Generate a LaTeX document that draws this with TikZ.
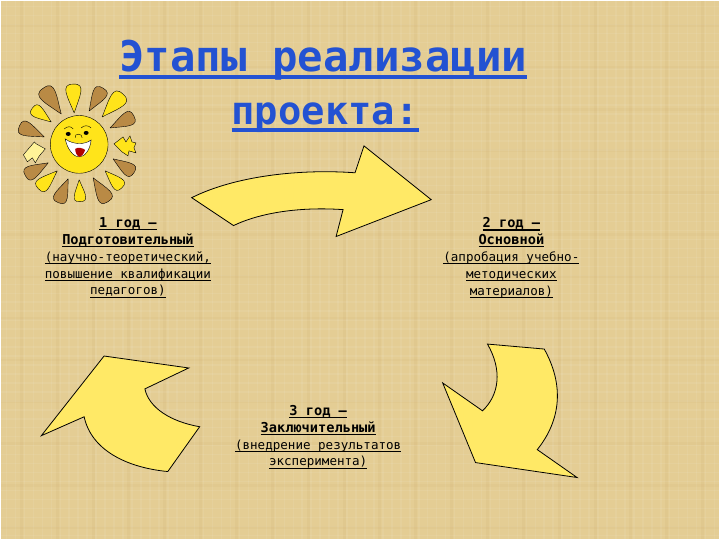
\documentclass[tikz,border=0pt]{standalone}
\usepackage{fontspec}
\usepackage{tikz}
\usetikzlibrary{calc}
\setmonofont{DejaVu Sans Mono}
\definecolor{paperTan}{HTML}{E4CD94}
\definecolor{arrowYellow}{HTML}{FFE966}
\definecolor{titleBlue}{HTML}{2352D2}
\definecolor{rayBrown}{HTML}{B98A45}
\definecolor{sunYellow}{HTML}{FFE41A}
\newsavebox{\lineBox}
\newcommand{\titleLine}[1]{\sbox{\lineBox}{#1}\rlap{\vrule width\wd\lineBox height -3.5pt depth 7pt}\usebox{\lineBox}}
\newcommand{\stageLine}[1]{\sbox{\lineBox}{#1}\rlap{\vrule width\wd\lineBox height -2pt depth 3.1pt}\usebox{\lineBox}}
\newcommand{\stageHead}[1]{\stageLine{\fontsize{13.7}{17}\selectfont\bfseries #1}}
\newcommand{\sunRay}[3]{\draw[black, thin, fill=#3] (#2) .. controls ($(#2)!0.6!20:(#1)$) and ($(#2)!1.12!25:(#1)$) .. (#1) .. controls ($(#2)!1.12!-25:(#1)$) and ($(#2)!0.6!-20:(#1)$) .. (#2);}

\begin{document}
\begin{tikzpicture}[x=1pt, y=-1pt]
  \tikzset{bigArrow/.style={draw=black, line width=0.8pt, fill=arrowYellow, line join=miter},
    titleText/.style={font=\ttfamily\bfseries\fontsize{42.5}{50}\selectfont, text=titleBlue, anchor=base, inner sep=0pt},
    stageText/.style={font=\ttfamily\fontsize{12.6}{17}\selectfont, align=center, anchor=north, inner sep=0pt}}
  \fill[paperTan] (0,0) rectangle (720,540);
  \foreach \x in {5,14,...,720}
    \draw[white, opacity=0.07, line width=1.5pt] (\x,0) -- (\x,540);
  \foreach \x in {20,56,...,720}
    \draw[rayBrown, opacity=0.07, line width=3pt] (\x,0) -- (\x,540);
  \foreach \y in {5,14,...,540}
    \draw[white, opacity=0.07, line width=1.5pt] (0,\y) -- (720,\y);
  \foreach \y in {24,66,...,540}
    \draw[rayBrown, opacity=0.05, line width=3pt] (0,\y) -- (720,\y);

  \node[titleText] (title-1) at (323,70.5) {\titleLine{Этапы реализации}};
  \node[titleText, font=\ttfamily\bfseries\fontsize{39}{50}\selectfont] (title-2) at (325,124) {\titleLine{проекта:}};

  \draw[bigArrow] (431.5,199) -- (364,145) -- (355,172)
    .. controls (300,168) and (235,175) .. (191,197) -- (233,225)
    .. controls (260,212) and (300,206) .. (343,209) -- (336,236) -- cycle;
  \draw[bigArrow] (488,344) -- (545,349)
    .. controls (565,385) and (562,420) .. (538,450) -- (578,478)
    -- (476,463) -- (443,383) -- (483,411)
    .. controls (500,395) and (503,370) .. cycle;
  \draw[bigArrow] (103,356) -- (188,368) -- (144,389)
    .. controls (148,408) and (170,422) .. (199,427) -- (167,472)
    .. controls (125,468) and (90,450) .. (83,417) -- (40,436) -- cycle;

  \node[stageText] (stage-1) at (127,216.5) {\stageHead{1 год –}\\\stageHead{Подготовительный}\\\stageLine{(научно-теоретический,}\\\stageLine{повышение квалификации}\\\stageLine{педагогов)}};
  \node[stageText] (stage-2) at (512,216.5) {\stageHead{2 год –}\\\stageHead{Основной}\\\stageLine{(апробация учебно-}\\\stageLine{методических}\\\stageLine{материалов)}};
  \node[stageText] (stage-3) at (318,405) {\stageHead{3 год –}\\\stageHead{Заключительный}\\\stageLine{(внедрение результатов}\\\stageLine{эксперимента)}};

  \sunRay{42,87}{60,113}{rayBrown}
  \sunRay{72,83}{73,112}{sunYellow}
  \sunRay{102,87}{88,110}{rayBrown}
  \sunRay{122,93}{101,116}{sunYellow}
  \sunRay{133,115}{109,127}{rayBrown}
  \sunRay{133,172}{112,158}{rayBrown}
  \sunRay{121,187}{104,170}{sunYellow}
  \sunRay{107,201}{92,177}{rayBrown}
  \sunRay{79,201}{78,179}{sunYellow}
  \sunRay{57,202}{67,178}{rayBrown}
  \sunRay{37,188}{56,170}{sunYellow}
  \sunRay{24,175}{47,162}{rayBrown}
  \sunRay{18,125}{43,136}{rayBrown}
  \sunRay{31,107}{50,121}{sunYellow}
  \draw[black, thin, fill=sunYellow] (113,143) -- (122,136) -- (125,141) -- (129,135) -- (131,141) -- (135,142) -- (133,147) -- (135,152) -- (128,150) -- (127,155) -- (121,151) -- cycle;
  \draw[black, thin, fill=sunYellow!45] (44,148) -- (35,143) -- (33,141) -- (27,148) -- (22,154) -- (26,161) -- (31,157) -- (34,162) -- (38,155) -- cycle;

  \draw[black, thin, fill=sunYellow] (78,143.5) circle (29);
  \draw[black, fill=white] (64,138) .. controls (72,144) and (84,144) .. (90,139) .. controls (89,150) and (83,156) .. (78,156) .. controls (72,156) and (66,148) .. cycle;
  \fill[red!70!black] (74,148) .. controls (77,146) and (81,147) .. (84,149) .. controls (83,153) and (80,156) .. (78,156) .. controls (76,155) and (74,152) .. cycle;
  \fill[black] (67,133) ellipse (2.5 and 2);
  \fill[black] (85,132) ellipse (2.5 and 2);
  \draw[black, thin] (74,137) .. controls (72,132) and (82,132) .. (81,137);
  \draw[black, thin] (63,128) .. controls (66,125) and (70,125) .. (72,128);
  \draw[black, thin] (80,127) .. controls (83,124) and (87,124) .. (90,127);
\end{tikzpicture}
\end{document}
